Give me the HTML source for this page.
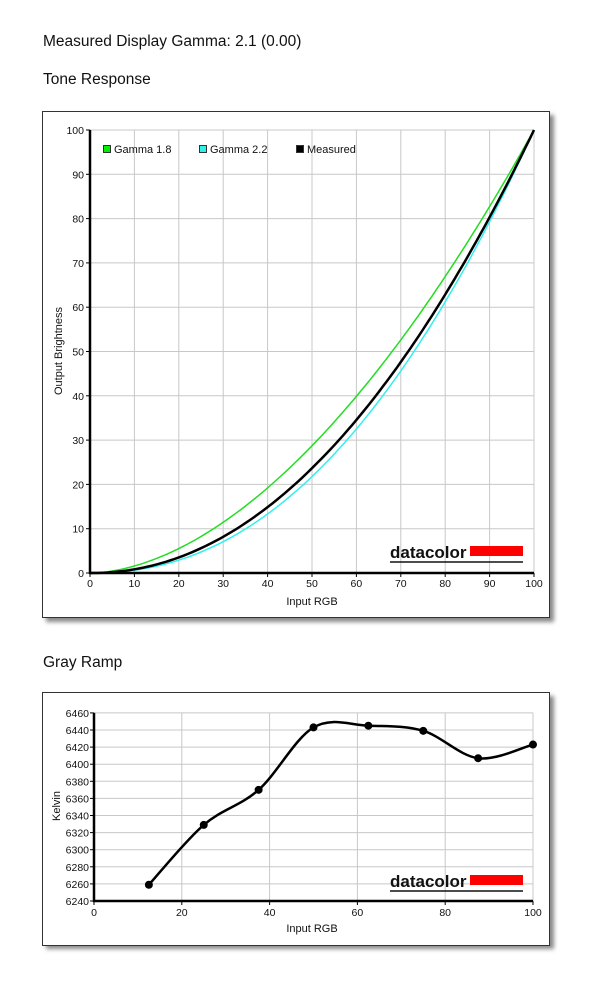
<!DOCTYPE html>
<html><head><meta charset="utf-8"><style>
html,body{margin:0;padding:0;background:#fff;}
svg{display:block;font-family:"Liberation Sans",Arial,sans-serif;}
</style></head><body>
<svg id="s" width="600" height="989" viewBox="0 0 600 989" xmlns="http://www.w3.org/2000/svg">
<defs><filter id="sh" x="-5%" y="-5%" width="115%" height="115%"><feGaussianBlur stdDeviation="2"/></filter></defs>
<text x="43" y="46" font-size="15.5" fill="#111">Measured Display Gamma: 2.1 (0.00)</text>
<text x="43" y="84" font-size="15.5" fill="#111">Tone Response</text>
<text x="43" y="667" font-size="15.5" fill="#111">Gray Ramp</text>
<rect x="46" y="115" width="508" height="507" fill="#888" filter="url(#sh)"/>
<rect x="42.5" y="111.5" width="507" height="506" fill="#fff" stroke="#333" stroke-width="1"/>
<rect x="46" y="696" width="508" height="253" fill="#888" filter="url(#sh)"/>
<rect x="42.5" y="692.5" width="507" height="253" fill="#fff" stroke="#333" stroke-width="1"/>
<g id="c1"></g><g id="c2"></g>
</svg>
<script>
var NS="http://www.w3.org/2000/svg";
function el(p,t,a,txt){var e=document.createElementNS(NS,t);for(var k in a)e.setAttribute(k,a[k]);if(txt!=null)e.textContent=txt;p.appendChild(e);return e;}
// Chart 1
var g=document.getElementById('c1');
var L=90,R=534,T=130,B=573;
function X(v){return L+(R-L)*v/100;}function Y(v){return B-(B-T)*v/100;}
for(var i=0;i<=10;i++){
 var x=X(i*10),y=Y(i*10);
 if(i>0){el(g,'line',{x1:x,y1:T,x2:x,y2:B,stroke:'#c8c8c8','stroke-width':1});el(g,'line',{x1:L,y1:y,x2:R,y2:y,stroke:'#c8c8c8','stroke-width':1});}
 el(g,'line',{x1:x,y1:B,x2:x,y2:B+4,stroke:'#000'});el(g,'line',{x1:L-4,y1:y,x2:L,y2:y,stroke:'#000'});
 el(g,'text',{x:x,y:B+14,'font-size':10.5,'text-anchor':'middle',fill:'#111'},i*10);
 el(g,'text',{x:L-6,y:y+4,'font-size':10.5,'text-anchor':'end',fill:'#111'},i*10);
}
function curve(gm,col,w){var d='';for(var i=0;i<=100;i++){var v=100*Math.pow(i/100,gm);d+=(i?'L':'M')+X(i).toFixed(1)+','+Y(v).toFixed(1);}el(g,'path',{d:d,fill:'none',stroke:col,'stroke-width':w});}
curve(1.8,'#22dd22',1.5);curve(2.2,'#33eeee',1.5);curve(2.08,'#000',2.5);
el(g,'line',{x1:L,y1:T,x2:L,y2:B+1,stroke:'#000','stroke-width':2.5});
el(g,'line',{x1:L-1,y1:B,x2:R,y2:B,stroke:'#000','stroke-width':2.5});
var lg=[['Gamma 1.8','#00ee00',103],['Gamma 2.2','#33eeee',199],['Measured','#000',296]];
lg.forEach(function(a){el(g,'rect',{x:a[2]+0.5,y:145.5,width:7,height:7,fill:a[1],stroke:'#333'});el(g,'text',{x:a[2]+11,y:153,'font-size':11,fill:'#111'},a[0]);});
el(g,'text',{x:'-351',y:62,'font-size':11,'text-anchor':'middle',transform:'rotate(-90)',fill:'#111'},'Output Brightness');
el(g,'text',{x:312,y:605,'font-size':11,'text-anchor':'middle',fill:'#111'},'Input RGB');
function logo(p,x,y){el(p,'text',{x:x,y:y,'font-size':17,'font-weight':'bold',fill:'#111'},'datacolor');el(p,'rect',{x:x+80,y:y-12,width:53,height:10,fill:'#ff0000'});el(p,'line',{x1:x,y1:y+4,x2:x+133,y2:y+4,stroke:'#111','stroke-width':1.5});}
logo(g,390,558);
// Chart 2
var h=document.getElementById('c2');
var L2=94,R2=533,B2=901,K=17.1;
function X2(v){return L2+(R2-L2)*v/100;}function Y2(k){return B2-(k-6240)/20*K;}
var T2=Y2(6460);
for(var i=0;i<=5;i++){var x=X2(i*20);if(i>0)el(h,'line',{x1:x,y1:T2,x2:x,y2:B2,stroke:'#c8c8c8'});el(h,'line',{x1:x,y1:B2,x2:x,y2:B2+4,stroke:'#000'});el(h,'text',{x:x,y:B2+15,'font-size':10.5,'text-anchor':'middle',fill:'#111'},i*20);}
for(var k=6240;k<=6460;k+=20){var y=Y2(k);if(k>6240)el(h,'line',{x1:L2,y1:y,x2:R2,y2:y,stroke:'#c8c8c8'});el(h,'line',{x1:L2-4,y1:y,x2:L2,y2:y,stroke:'#000'});el(h,'text',{x:L2-5,y:y+4,'font-size':10.5,'text-anchor':'end',fill:'#111'},k);}
var pts=[[12.5,6259],[25,6329],[37.5,6370],[50,6443],[62.5,6445],[75,6439],[87.5,6407],[100,6423]].map(function(p){return [X2(p[0]),Y2(p[1])];});
var d='M'+pts[0][0]+','+pts[0][1];
for(var i=0;i<pts.length-1;i++){var p0=pts[Math.max(0,i-1)],p1=pts[i],p2=pts[i+1],p3=pts[Math.min(pts.length-1,i+2)];
 d+='C'+(p1[0]+(p2[0]-p0[0])/6)+','+(p1[1]+(p2[1]-p0[1])/6)+' '+(p2[0]-(p3[0]-p1[0])/6)+','+(p2[1]-(p3[1]-p1[1])/6)+' '+p2[0]+','+p2[1];}
el(h,'path',{d:d,fill:'none',stroke:'#000','stroke-width':2.5});
pts.forEach(function(p){el(h,'circle',{cx:p[0],cy:p[1],r:4,fill:'#000'});});
el(h,'line',{x1:L2,y1:T2,x2:L2,y2:B2+1,stroke:'#000','stroke-width':2.5});
el(h,'line',{x1:L2-1,y1:B2,x2:R2,y2:B2,stroke:'#000','stroke-width':2.5});
el(h,'text',{x:'-806',y:60,'font-size':11,'text-anchor':'middle',transform:'rotate(-90)',fill:'#111'},'Kelvin');
el(h,'text',{x:312,y:932,'font-size':11,'text-anchor':'middle',fill:'#111'},'Input RGB');
logo(h,390,887);
</script>
</body></html>
